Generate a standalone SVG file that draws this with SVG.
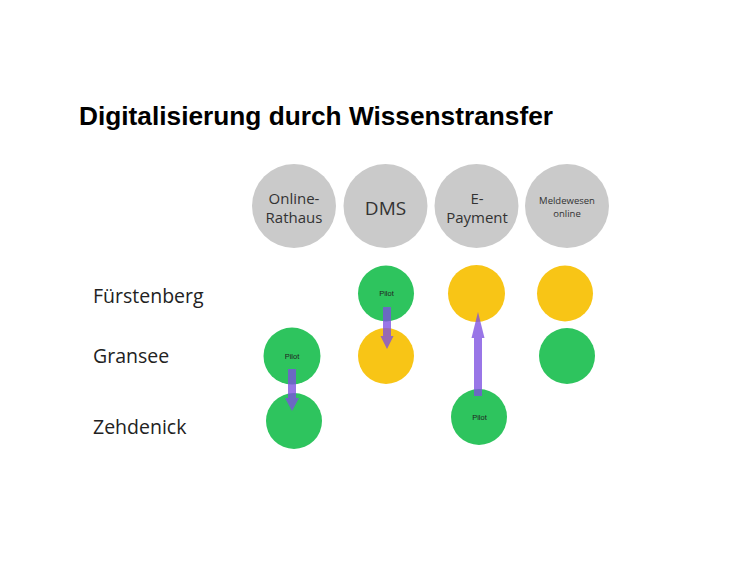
<svg xmlns="http://www.w3.org/2000/svg" width="750" height="562" viewBox="0 0 750 562">
<style>
.title{font-family:"Liberation Sans",Arial,sans-serif;font-weight:bold;font-size:26px;fill:#000}
.row{font-family:"Open Sans","Noto Sans",sans-serif;font-size:19.5px;fill:#222}
.cat{font-family:"Open Sans","Noto Sans",sans-serif;font-size:15px;fill:#333;text-anchor:middle}
.small{font-size:9.5px}
.pilot{font-family:"Liberation Sans",Arial,sans-serif;font-size:7.5px;fill:#222;text-anchor:middle}
.gray{fill:#CACACA}
.green{fill:#2EC45E}
.yellow{fill:#F8C516}
.arrow{fill:#7C4FE0;fill-opacity:0.78}
</style>
<rect width="750" height="562" fill="#fff"/>
<text class="title" x="79" y="124.5" textLength="474" lengthAdjust="spacingAndGlyphs">Digitalisierung durch Wissenstransfer</text>
<g id="row-labels">
<text class="row" x="93" y="303">Fürstenberg</text>
<text class="row" x="93" y="363">Gransee</text>
<text class="row" x="93" y="434">Zehdenick</text>
</g>
<g id="cat-online-rathaus">
<circle class="gray" cx="294" cy="206" r="42"/>
<text class="cat" x="294" y="204">Online-</text>
<text class="cat" x="294" y="223">Rathaus</text>
</g>
<g id="cat-dms">
<circle class="gray" cx="385.5" cy="206" r="42"/>
<text class="cat" x="385.5" y="215" style="font-size:19px">DMS</text>
</g>
<g id="cat-epayment">
<circle class="gray" cx="476.5" cy="206" r="42"/>
<text class="cat" x="477" y="204">E-</text>
<text class="cat" x="477" y="223">Payment</text>
</g>
<g id="cat-meldewesen">
<circle class="gray" cx="567" cy="206" r="42"/>
<text class="cat small" x="567" y="203.5">Meldewesen</text>
<text class="cat small" x="567" y="217">online</text>
</g>
<g id="fuerstenberg-dms">
<circle class="green" cx="386" cy="293.5" r="28"/>
<text class="pilot" x="386.5" y="296">Pilot</text>
</g>
<g id="fuerstenberg-epayment">
<circle class="yellow" cx="476.5" cy="293.5" r="28.5"/>
</g>
<g id="fuerstenberg-meldewesen">
<circle class="yellow" cx="565" cy="293.5" r="28"/>
</g>
<g id="gransee-online-rathaus">
<circle class="green" cx="292" cy="356" r="28.5"/>
<text class="pilot" x="292" y="359">Pilot</text>
</g>
<g id="gransee-dms">
<circle class="yellow" cx="386" cy="356" r="28"/>
</g>
<g id="gransee-meldewesen">
<circle class="green" cx="567" cy="356" r="28"/>
</g>
<g id="zehdenick-online-rathaus">
<circle class="green" cx="294" cy="421" r="28"/>
</g>
<g id="zehdenick-epayment">
<circle class="green" cx="479" cy="417" r="28"/>
<text class="pilot" x="479.5" y="420">Pilot</text>
</g>
<g id="connectors">
<path class="arrow" d="M288,369 H296 V398 H299 L292,411 L285,398 H288 Z"/>
<path class="arrow" d="M383,307 H391 V336 H393.5 L387,349 L380.5,336 H383 Z"/>
<path class="arrow" d="M474,396 V338 H471.5 L478,312 L484.5,338 H482 V396 Z"/>
</g>
</svg>
